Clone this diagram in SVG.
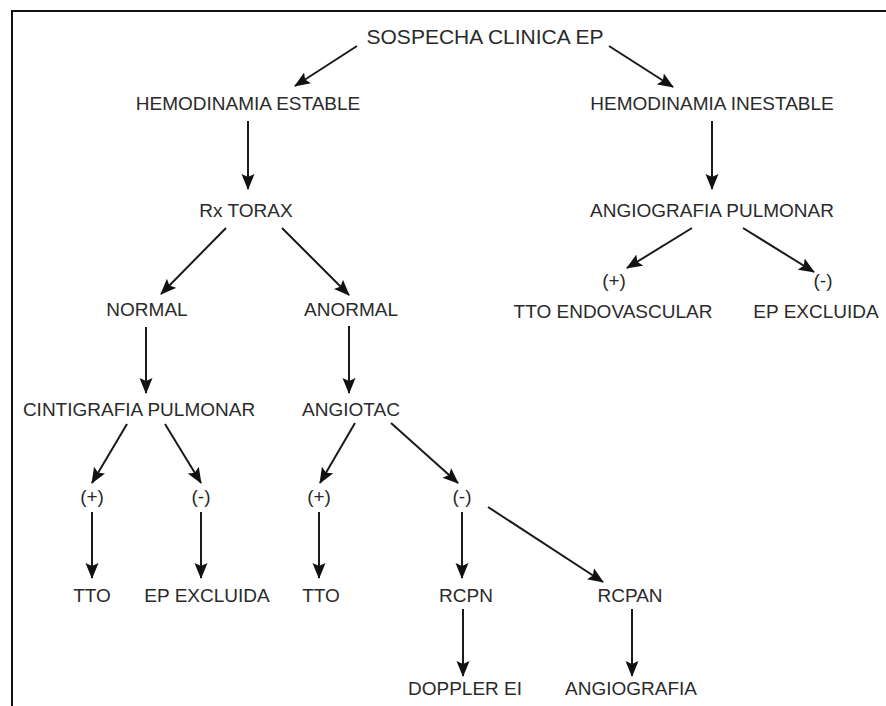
<svg xmlns="http://www.w3.org/2000/svg" width="886" height="706" viewBox="0 0 886 706">
<style>
  text { font-family: "Liberation Sans", Arial, sans-serif; font-size: 19px; fill: #2a2a2a; text-anchor: middle; }
  .big { font-size: 21px; }
  .c { stroke: #1a1a1a; stroke-width: 2; fill: none; marker-end: url(#ah); }
  .frame { stroke: #111; stroke-width: 2; fill: none; }
</style>
<defs>
  <marker id="ah" markerWidth="16" markerHeight="14" refX="15" refY="7" orient="auto" markerUnits="userSpaceOnUse">
    <path d="M0,0.5 L16,7 L0,13.5 L3,7 z" fill="#111"/>
  </marker>
</defs>
<rect width="886" height="706" fill="#fff"/>
<path class="frame" d="M12,706 L12,11 L886,11"/>
<g id="connectors">
  <line class="c" x1="357" y1="46" x2="295" y2="86"/>
  <line class="c" x1="609" y1="46" x2="673" y2="87"/>
  <line class="c" x1="248" y1="121" x2="248" y2="189"/>
  <line class="c" x1="712" y1="121" x2="712" y2="189"/>
  <line class="c" x1="692" y1="228" x2="627" y2="268"/>
  <line class="c" x1="743" y1="228" x2="814" y2="272"/>
  <line class="c" x1="226" y1="228" x2="161" y2="294"/>
  <line class="c" x1="282" y1="228" x2="349" y2="295"/>
  <line class="c" x1="146" y1="327" x2="146" y2="393"/>
  <line class="c" x1="349" y1="326" x2="349" y2="393"/>
  <line class="c" x1="127" y1="424" x2="92" y2="483"/>
  <line class="c" x1="165" y1="424" x2="201" y2="483"/>
  <line class="c" x1="355" y1="423" x2="320" y2="483"/>
  <line class="c" x1="391" y1="423" x2="458" y2="483"/>
  <line class="c" x1="92" y1="512" x2="92" y2="578"/>
  <line class="c" x1="201" y1="512" x2="201" y2="578"/>
  <line class="c" x1="319" y1="512" x2="319" y2="578"/>
  <line class="c" x1="462" y1="512" x2="462" y2="578"/>
  <line class="c" x1="488" y1="507" x2="603" y2="582"/>
  <line class="c" x1="463" y1="609" x2="463" y2="676"/>
  <line class="c" x1="632" y1="609" x2="632" y2="676"/>
</g>
<g id="n-sospecha"><text class="big" x="485" y="44">SOSPECHA CLINICA EP</text></g>
<g id="n-hem-estable"><text x="248" y="110">HEMODINAMIA ESTABLE</text></g>
<g id="n-hem-inestable"><text x="712" y="110">HEMODINAMIA INESTABLE</text></g>
<g id="n-rx"><text x="246" y="217">Rx TORAX</text></g>
<g id="n-angio-pulm"><text x="712" y="217">ANGIOGRAFIA PULMONAR</text></g>
<g id="n-ap-pos"><text x="614" y="287">(+)</text></g>
<g id="n-ap-neg"><text x="823" y="287">(-)</text></g>
<g id="n-tto-endo"><text x="613" y="318">TTO ENDOVASCULAR</text></g>
<g id="n-ep-excl-2"><text x="816" y="318">EP EXCLUIDA</text></g>
<g id="n-normal"><text x="147" y="316">NORMAL</text></g>
<g id="n-anormal"><text x="351" y="316">ANORMAL</text></g>
<g id="n-cintigrafia"><text x="139" y="416">CINTIGRAFIA PULMONAR</text></g>
<g id="n-angiotac"><text x="351" y="416">ANGIOTAC</text></g>
<g id="n-c-pos"><text x="92" y="503">(+)</text></g>
<g id="n-c-neg"><text x="201" y="503">(-)</text></g>
<g id="n-a-pos"><text x="319" y="503">(+)</text></g>
<g id="n-a-neg"><text x="462" y="503">(-)</text></g>
<g id="n-tto-1"><text x="92" y="602">TTO</text></g>
<g id="n-ep-excl-1"><text x="207" y="602">EP EXCLUIDA</text></g>
<g id="n-tto-2"><text x="321" y="602">TTO</text></g>
<g id="n-rcpn"><text x="466" y="602">RCPN</text></g>
<g id="n-rcpan"><text x="630" y="602">RCPAN</text></g>
<g id="n-doppler"><text x="465" y="695">DOPPLER EI</text></g>
<g id="n-angiografia"><text x="631" y="695">ANGIOGRAFIA</text></g>
</svg>
